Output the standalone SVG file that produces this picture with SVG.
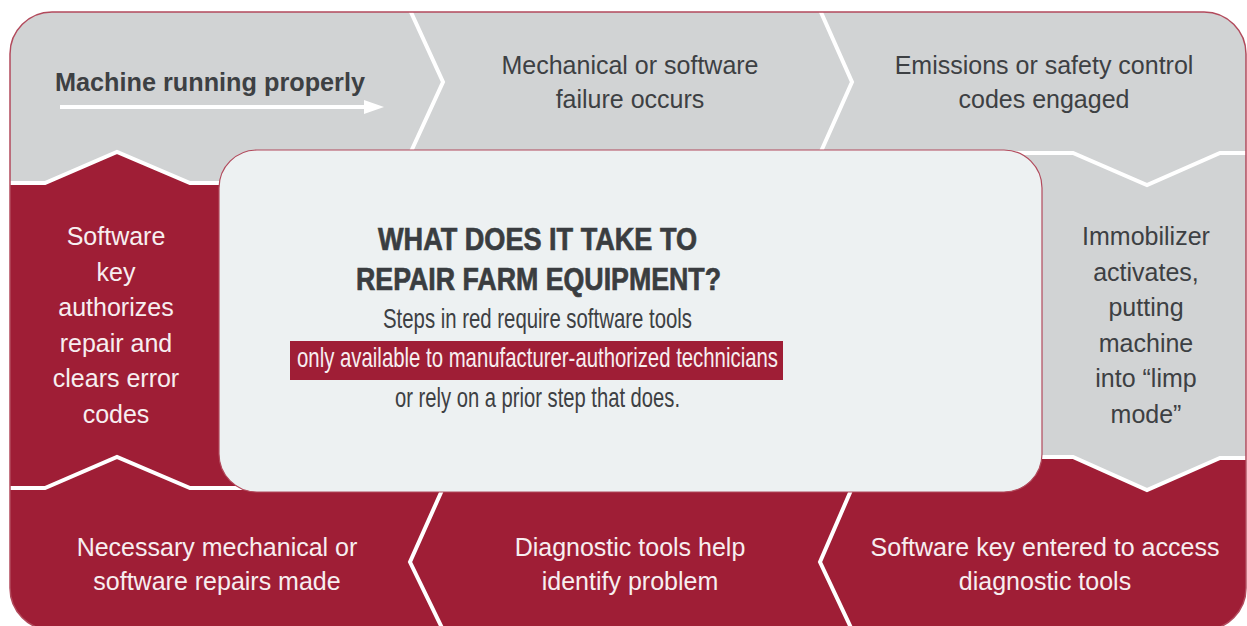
<svg xmlns="http://www.w3.org/2000/svg" width="1247" height="626" viewBox="0 0 1247 626">
<style>
.gray{fill:#d1d3d4}
.red{fill:#9f1e36}
.sep{fill:none;stroke:#ffffff;stroke-width:4;stroke-linejoin:miter}
.dk{font-family:"Liberation Sans",Arial,sans-serif;font-size:25px;fill:#3d4043;text-anchor:middle}
.wt{font-family:"Liberation Sans",Arial,sans-serif;font-size:25px;fill:#f7eef0;text-anchor:middle}
.title{font-family:"Liberation Sans",Arial,sans-serif;font-size:32px;font-weight:bold;fill:#3a3d40;stroke:#3a3d40;stroke-width:0.7;text-anchor:middle}
.sub{font-family:"Liberation Sans",Arial,sans-serif;font-size:28px;fill:#3d4043;text-anchor:middle}
</style>
<defs>
<clipPath id="outer"><rect x="10" y="12" width="1236" height="618" rx="42" ry="42"/></clipPath>
</defs>
<rect width="1247" height="626" fill="#ffffff"/>
<g clip-path="url(#outer)">
  <g id="segments">
    <rect class="gray" x="0" y="0" width="1260" height="640"/>
    <polygon class="red" points="0,183 45,183 117,152 190,183 300,183 300,457 1073,457 1147,490 1220,458 1260,458 1260,640 0,640"/>
  </g>
  <g id="connectors">
    <polyline class="sep" points="410,10 443,82 409,156"/>
    <polyline class="sep" points="820,10 852,82 819,156"/>
    <polyline class="sep" points="0,183 45,183 117,152 190,183 250,183"/>
    <polyline class="sep" points="0,488 45,488 117,457 190,488 250,488"/>
    <polyline class="sep" points="1000,153 1073,153 1147,185 1220,153 1260,153"/>
    <polyline class="sep" points="1000,457 1073,457 1147,490 1220,458 1260,458"/>
    <polyline class="sep" points="443,488 410,562 444,632"/>
    <polyline class="sep" points="852,488 820,562 853,632"/>
  </g>
</g>
<rect x="10" y="12" width="1236" height="618" rx="42" ry="42" fill="none" stroke="#b24a5c" stroke-width="1.5"/>

<g id="node-running">
  <text class="dk" x="210" y="91" style="font-weight:bold" textLength="310" lengthAdjust="spacingAndGlyphs">Machine running properly</text>
  <line x1="60" y1="107" x2="368" y2="107" stroke="#ffffff" stroke-width="4"/>
  <polygon points="364,100 384,107 364,114" fill="#ffffff"/>
</g>
<g id="node-failure">
  <text class="dk" x="630" y="74">Mechanical or software</text>
  <text class="dk" x="630" y="108">failure occurs</text>
</g>
<g id="node-emissions">
  <text class="dk" x="1044" y="74">Emissions or safety control</text>
  <text class="dk" x="1044" y="108">codes engaged</text>
</g>
<g id="node-immobilizer">
  <text class="dk" x="1146" y="245">Immobilizer</text>
  <text class="dk" x="1146" y="281">activates,</text>
  <text class="dk" x="1146" y="316">putting</text>
  <text class="dk" x="1146" y="352">machine</text>
  <text class="dk" x="1146" y="387">into “limp</text>
  <text class="dk" x="1146" y="423">mode”</text>
</g>
<g id="node-keyentered">
  <text class="wt" x="1045" y="556">Software key entered to access</text>
  <text class="wt" x="1045" y="590">diagnostic tools</text>
</g>
<g id="node-diagnostic">
  <text class="wt" x="630" y="556">Diagnostic tools help</text>
  <text class="wt" x="630" y="590">identify problem</text>
</g>
<g id="node-repairs">
  <text class="wt" x="217" y="556">Necessary mechanical or</text>
  <text class="wt" x="217" y="590">software repairs made</text>
</g>
<g id="node-authorizes">
  <text class="wt" x="116" y="245">Software</text>
  <text class="wt" x="116" y="281">key</text>
  <text class="wt" x="116" y="316">authorizes</text>
  <text class="wt" x="116" y="352">repair and</text>
  <text class="wt" x="116" y="387">clears error</text>
  <text class="wt" x="116" y="423">codes</text>
</g>

<g id="node-center">
  <rect x="219" y="150" width="823" height="342" rx="38" ry="38" fill="#edf1f2" stroke="#b24a5c" stroke-width="1.2"/>
  <text class="title" x="537.5" y="250" textLength="319" lengthAdjust="spacingAndGlyphs">WHAT DOES IT TAKE TO</text>
  <text class="title" x="538.5" y="290" textLength="365" lengthAdjust="spacingAndGlyphs">REPAIR FARM EQUIPMENT?</text>
  <text class="sub" x="537.5" y="328" textLength="309" lengthAdjust="spacingAndGlyphs">Steps in red require software tools</text>
  <rect x="290" y="341" width="493" height="39" fill="#9f1e36"/>
  <text class="sub" x="537.5" y="367" style="fill:#f7eef0" textLength="481" lengthAdjust="spacingAndGlyphs">only available to manufacturer-authorized technicians</text>
  <text class="sub" x="537.5" y="407" textLength="285" lengthAdjust="spacingAndGlyphs">or rely on a prior step that does.</text>
</g>
</svg>
